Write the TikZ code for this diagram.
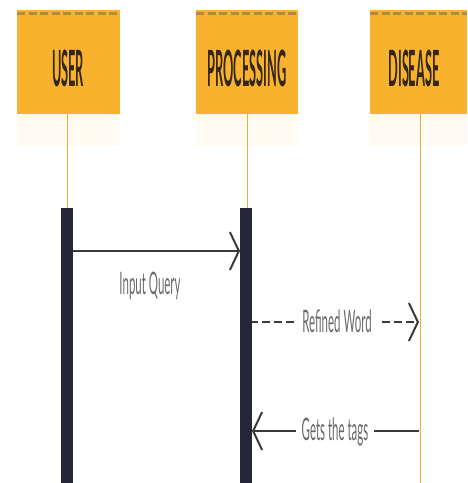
\documentclass[tikz,border=0pt]{standalone}
\usepackage{fontspec}
\setmainfont{Lato}
\usetikzlibrary{arrows.meta}
\definecolor{boxfill}{HTML}{F8B22E}
\definecolor{boxdash}{HTML}{B8892E}
\definecolor{titletext}{HTML}{35261A}
\definecolor{lifeline}{HTML}{E4B03C}
\definecolor{barcol}{HTML}{26263A}
\definecolor{msgcol}{HTML}{3A3A3A}
\definecolor{labcol}{HTML}{6A6A6A}
\definecolor{paleshadow}{HTML}{FFFBF3}
\tikzset{
  headbox/.style={fill=boxfill, draw=none, minimum height=104pt, inner sep=0pt, anchor=north},
  title/.style={text=titletext, font=\bfseries\fontsize{50}{50}\selectfont},
  life/.style={draw=lifeline, line width=1pt},
  actbar/.style={fill=barcol, draw=none, minimum width=12pt, inner sep=0pt, anchor=north},
  msg/.style={draw=msgcol, line width=2.4pt, -{Straight Barb[length=9pt,width=38pt,line width=2pt]}},
  msglabel/.style={text=labcol, fill=white, inner xsep=6pt, inner ysep=2pt, font=\fontsize{31}{31}\selectfont}
}
\newcommand{\tsq}[1]{\scalebox{0.255}[1]{#1}}
\newcommand{\lsq}[1]{\scalebox{0.37}[1]{#1}}
\begin{document}
\begin{tikzpicture}[x=1pt,y=-1pt]
\useasboundingbox (0,0) rectangle (467,483);
% faint shadows under boxes
\fill[paleshadow] (17,114) rectangle (120,146);
\fill[paleshadow] (196,114) rectangle (298,146);
\fill[paleshadow] (370,114) rectangle (467,146);
% header boxes
\node[headbox, minimum width=103pt] (userbox) at (68.5,10) {};
\node[headbox, minimum width=102pt] (procbox) at (247,10) {};
\fill[boxfill] (370,10) rectangle (467,114);
\coordinate (disbox) at (420,10);
\draw[boxdash, line width=3pt, dash pattern=on 8pt off 3.5pt] (17,13) -- (120,13);
\draw[boxdash, line width=3pt, dash pattern=on 8pt off 3.5pt] (196,13) -- (298,13);
\draw[boxdash, line width=3pt, dash pattern=on 8pt off 3.5pt] (370,13) -- (467,13);
\node[title] (usert) at (68,68) {\tsq{USER}};
\node[title] (proct) at (247,68) {\tsq{PROCESSING}};
\node[title] (dist) at (414,68) {\tsq{DISEASE}};
% lifelines
\coordinate (ul0) at (67,114);
\coordinate (pl0) at (247,114);
\coordinate (dl0) at (420,114);
\coordinate (ul1) at (67,210);
\coordinate (pl1) at (247,210);
\coordinate (dl1) at (420,483);
\draw[life] (ul0) -- (ul1);
\draw[life] (pl0) -- (pl1);
\draw[life] (dl0) -- (dl1);
% activation bars
\node[actbar, minimum height=275pt] (ubar) at (67,208) {};
\node[actbar, minimum height=275pt] (pbar) at (246,208) {};
% messages
\coordinate (m1s) at (73,251);
\coordinate (m1e) at (240,251);
\draw[msg] (m1s) -- (m1e);
\node[msglabel, fill=none] (l1) at (150,286) {\lsq{Input Query}};
\coordinate (m2s) at (252,322);
\coordinate (m2e) at (419,322);
\draw[msg, dash pattern=on 8pt off 4pt, dash phase=2pt] (m2s) -- (m2e);
\node[msglabel] (l2) at (337,321) {\lsq{Refined Word}};
\coordinate (m3s) at (419,431);
\coordinate (m3e) at (252,431);
\draw[msg] (m3s) -- (m3e);
\node[msglabel] (l3) at (335,432) {\lsq{Gets the tags}};
\end{tikzpicture}
\end{document}
